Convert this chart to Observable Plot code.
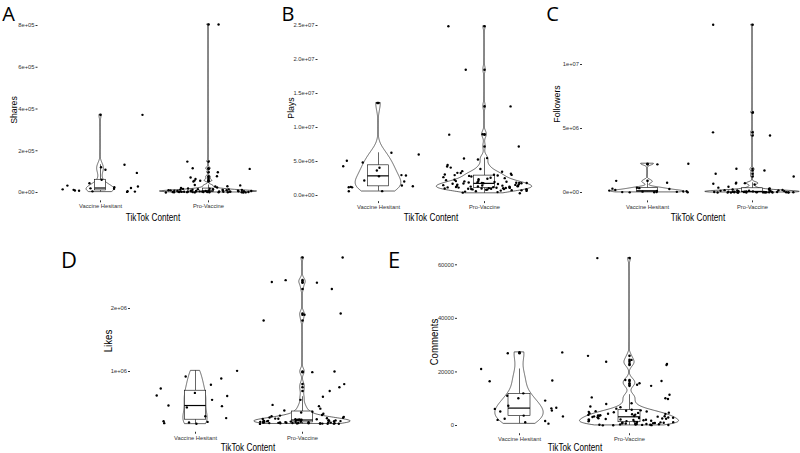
<!DOCTYPE html>
<html><head><meta charset="utf-8">
<script src="https://cdn.jsdelivr.net/npm/d3@7"></script>
<script src="https://cdn.jsdelivr.net/npm/@observablehq/plot@0.6"></script>
<style>
html,body{margin:0;padding:0;background:#fff}
body{width:800px;height:453px;overflow:hidden;position:relative;font-family:"Liberation Sans",Arial,sans-serif}
.lbl{position:absolute;white-space:nowrap;color:#000;line-height:normal}
.letter{font-family:"Open Sans","Liberation Sans",sans-serif}
</style></head><body>
<div id="root"></div>
<script>
// ---------- data ----------
const categories = ["Vaccine Hesitant", "Pro-Vaccine"];

const sharesHesitant = [372000, 133000, 121000, 109000, 94000, 61000, 44000, 33000, 29000, 25500, 21500, 19800, 17500, 15200, 12800, 9900, 8100, 6300, 5600, 4200, 2900];
const sharesPro = [805000, 148000, 116000, 113000, 97000, 78000, 72000, 65000, 57000, 56000, 53000, 36000, 34000, 30000, 29000, 24000, 22000,
  19500, 18200, 17600, 16100, 15400, 14800, 13900, 13200, 12600, 11800, 11100, 10700, 10200, 9600, 9300, 8800, 8400, 8100, 7700, 7400, 7100, 6900,
  6500, 6300, 6000, 5800, 5500, 5200, 5000, 4700, 4500, 4300, 4000, 3800, 3600, 3300, 3100, 2900, 2700, 2500, 2300, 2100, 1900, 1800, 1600, 1400,
  1200, 1000, 850, 700, 560, 420, 300, 180];
const sharesTicks = [0, 200000, 400000, 600000, 800000];
const sharesTickLabels = ["0e+00", "2e+05", "4e+05", "6e+05", "8e+05"];

const playsHesitant = [13600000, 6280000, 6030000, 5100000, 4850000, 4300000, 4070000, 3680000, 3000000, 2940000, 2840000, 2200000, 2060000,
  1470000, 1370000, 1270000, 1220000, 1200000, 640000, 620000];
const playsPro = [24900000, 18500000, 13100000, 9000000, 8950000, 7200000, 5500000, 5450000, 5300000, 4500000, 4260000, 4100000, 3900000,
  3580000, 3500000, 3330000, 3300000, 3200000, 3090000, 3060000, 3030000, 3000000,
  2940000, 2880000, 2790000, 2700000, 2620000, 2550000, 2470000, 2390000, 2310000, 2260000, 2180000, 2120000, 2070000, 2020000, 1980000,
  1950000, 1910000, 1880000, 1860000, 1840000, 1830000, 1810000, 1800000,
  1770000, 1730000, 1690000, 1640000, 1600000, 1560000, 1520000, 1480000, 1450000, 1420000, 1390000, 1360000, 1330000, 1310000, 1280000,
  1260000, 1230000, 1210000, 1190000, 1160000, 1140000, 1120000, 1100000, 1080000, 1060000, 1040000, 1020000, 1000000, 980000, 960000,
  940000, 920000, 900000, 870000, 850000, 820000, 790000, 760000, 720000, 680000, 630000, 570000, 500000, 420000, 330000];
const playsTicks = [0, 5000000, 10000000, 15000000, 20000000, 25000000];
const playsTickLabels = ["0.0e+00", "5.0e+06", "1.0e+07", "1.5e+07", "2.0e+07", "2.5e+07"];

const followersHesitant = [2250000, 2200000, 910000, 760000, 370000, 340000, 300000, 270000, 200000, 150000, 120000, 100000, 80000, 65000,
  50000, 40000, 30000, 22000, 18000, 10000];
const followersPro = [13100000, 6250000, 4700000, 4450000, 1850000, 1720000, 1460000, 1250000, 760000, 730000, 700000, 680000, 620000,
  450000, 380000, 310000, 270000, 240000, 215000, 198000, 183000, 166000, 152000, 141000, 129000, 118000, 109000, 101000, 93000, 86000,
  79000, 71000, 66000, 60000, 54000, 49000, 45000, 41000, 37000, 33000, 30000, 27500, 24000, 21500, 19000, 17200, 15100, 13300, 11800,
  10200, 8900, 7600, 6400, 5300, 4400, 3500, 2700, 1900, 1200, 600];
const followersTicks = [0, 5000000, 10000000];
const followersTickLabels = ["0e+00", "5e+06", "1e+07"];

const likesHesitant = [1010000, 920000, 890000, 790000, 730000, 660000, 620000, 610000, 550000, 460000, 450000, 430000, 290000, 260000,
  210000, 200000, 190000, 180000, 170000];
const likesPro = [2810000, 2450000, 2420000, 2410000, 2310000, 1920000, 1900000, 1810000, 1000000, 990000, 800000, 750000, 690000, 600000,
  550000, 470000, 450000, 410000, 380000, 360000, 350000, 330000, 310000, 300000, 290000, 280000, 270000, 265000, 258000, 252000, 249000,
  247000, 244000, 241000, 239000, 236000, 234000, 231000, 229000, 226000, 224000, 222000, 219000, 217000, 215000, 213000, 211000, 209000,
  207000, 205000, 203000, 201000, 199000, 197000, 196000, 194000, 192000, 191000, 189000, 188000, 186000, 185000, 183000, 182000, 181000,
  179000, 178000, 177000, 176000, 175000, 174000, 173000, 172000, 171000, 170000, 168000];
const likesTicks = [1000000, 2000000];
const likesTickLabels = ["1e+06", "2e+06"];

const commentsHesitant = [27300, 27000, 21100, 16800, 16500, 12000, 11100, 10200, 9300, 7400, 6600, 6400, 6200, 5600, 5200, 3700, 3400,
  2500, 2100, 1700, 1200, 700];
const commentsPro = [62500, 26000, 24500, 23800, 23000, 22600, 17000, 16600, 15800, 15200, 14800, 11500, 10500, 10200, 9900, 8300, 8000,
  7100, 6800, 6300, 5900, 5650, 5500, 5350, 5200, 5100, 4950, 4800, 4700, 4550, 4400, 4300, 4200, 4050, 3950, 3850, 3750, 3650, 3550, 3450,
  3400, 3300, 3200, 3100, 3000, 2900, 2800, 2700, 2600, 2500, 2400, 2300, 2250, 2150, 2050, 1950, 1850, 1750, 1650, 1550, 1450, 1350, 1250,
  1150, 1080, 1010, 950, 880, 820, 760, 700, 640, 580, 520, 470, 420, 370, 320, 270, 220, 170, 130, 90, 50];
const commentsTicks = [0, 20000, 40000, 60000];
const commentsTickLabels = ["0", "20000", "40000", "60000"];

const letters = ["A", "B", "C", "D", "E"];
const yTitles = ["Shares", "Plays", "Followers", "Likes", "Comments"];
const xTitle = "TikTok Content";

// ---------- layout (pixel geometry of each panel) ----------
const PANELS = [
  {hes: sharesHesitant, pro: sharesPro, ticks: sharesTicks, labels: sharesTickLabels,
   L: 37.5, c1: 100, c2: 208, a: [0, 192], b: [800000, 25], boxHalf: 0.05, seed: 0.11,
   letterPos: [8.5, 12.5, 20], yTitlePos: [13, 110, 9.5], xTitlePos: [153, 216.5, 10]},
  {hes: playsHesitant, pro: playsPro, ticks: playsTicks, labels: playsTickLabels,
   L: 317.5, c1: 378, c2: 484, a: [0, 195], b: [25000000, 25], boxHalf: 0.1, seed: 0.29,
   letterPos: [288, 12.5, 20], yTitlePos: [290, 108, 9.5], xTitlePos: [431, 216.5, 10]},
  {hes: followersHesitant, pro: followersPro, ticks: followersTicks, labels: followersTickLabels,
   L: 582, c1: 647, c2: 752, a: [0, 192], b: [10000000, 64], boxHalf: 0.1, seed: 0.47,
   letterPos: [552.5, 12.5, 20], yTitlePos: [556, 104, 9.5], xTitlePos: [698, 216.5, 10]},
  {hes: likesHesitant, pro: likesPro, ticks: likesTicks, labels: likesTickLabels,
   L: 130, c1: 195, c2: 302, a: [1000000, 371], b: [2000000, 308], boxHalf: 0.1, seed: 0.63,
   letterPos: [69, 259, 22], yTitlePos: [107.5, 341, 10.5], xTitlePos: [248, 446.5, 10]},
  {hes: commentsHesitant, pro: commentsPro, ticks: commentsTicks, labels: commentsTickLabels,
   L: 457, c1: 519, c2: 629, a: [0, 425], b: [60000, 264.3], boxHalf: 0.1, seed: 0.83,
   letterPos: [394, 258.5, 22], yTitlePos: [434, 342, 10.5], xTitlePos: [575, 446.5, 10]}
];

// gaussian KDE like R density() with bw.nrd0, trimmed to the data range, 512 points
function kde(vals) {
  const s = d3.sort(vals), n = s.length;
  const sd = d3.deviation(s);
  const iqr = d3.quantileSorted(s, 0.75) - d3.quantileSorted(s, 0.25);
  let lo = Math.min(sd, iqr / 1.34);
  if (!lo) lo = sd || Math.abs(s[0]) || 1;
  const bw = 0.9 * lo * Math.pow(n, -0.2);
  const mn = s[0], mx = s[n - 1], out = [];
  const norm = 1 / (n * bw * Math.sqrt(2 * Math.PI));
  for (let k = 0; k < 512; k++) {
    const y = mn + (mx - mn) * k / 511;
    let sum = 0;
    for (const v of s) { const z = (y - v) / bw; sum += Math.exp(-0.5 * z * z); }
    out.push({y, d: sum * norm});
  }
  return out;
}

const root = document.getElementById("root");
const W = 800, H = 453;

function addText(txt, x, y, size, rotate, sx, cls) {
  const d = document.createElement("div");
  d.textContent = txt;
  d.className = "lbl" + (cls ? " " + cls : "");
  d.style.left = x + "px";
  d.style.top = y + "px";
  d.style.fontSize = size + "px";
  d.style.transform = "translate(-50%,-50%)" + (rotate ? " rotate(-90deg)" : "") + " scaleX(" + sx + ")";
  document.body.appendChild(d);
}

PANELS.forEach((p, idx) => {
  const unit = p.c2 - p.c1;
  const R = Math.min(p.c2 + (p.c1 - p.L), W);
  const xDomain = [1 - (p.c1 - p.L) / unit, 2 + (R - p.c2) / unit];
  const k = (p.a[1] - p.b[1]) / (p.b[0] - p.a[0]);
  const py = v => p.a[1] - (v - p.a[0]) * k;
  const all = p.hes.concat(p.pro);
  const lo = d3.min(all), hi = d3.max(all), pad = 0.05 * (hi - lo);
  const yDomain = [lo - pad, hi + pad];
  const T = py(hi + pad), B = py(lo - pad);

  const groups = [p.hes, p.pro];
  const dens = groups.map(kde);
  const dmax = d3.max(dens.flat(), d => d.d);
  const vio = dens.flatMap((arr, g) => arr.map(d => ({g, y: d.y, x1: g + 1 - d.d / dmax * 0.45, x2: g + 1 + d.d / dmax * 0.45})));

  const boxes = groups.map((vals, g) => {
    const s = d3.sort(vals);
    const q1 = d3.quantileSorted(s, 0.25), q2 = d3.quantileSorted(s, 0.5), q3 = d3.quantileSorted(s, 0.75);
    const iqr = q3 - q1, lf = q1 - 1.5 * iqr, uf = q3 + 1.5 * iqr;
    const inside = s.filter(v => v >= lf && v <= uf);
    return {c: g + 1, q1, q2, q3, lo: d3.min(inside), hi: d3.max(inside), out: s.filter(v => v < lf || v > uf)};
  });
  const outliers = boxes.flatMap(b => b.out.map(v => ({c: b.c, v})));
  // horizontal jitter (±0.4 of a category), seeded so the page is reproducible
  const jitter = d3.randomUniform.source(d3.randomLcg(p.seed))(-0.4, 0.4);
  const pts = groups.flatMap((vals, g) => vals.map(v => ({v, x: g + 1 + jitter()})));

  const chart = Plot.plot({
    width: W, height: H,
    marginLeft: p.L, marginRight: W - R, marginTop: T, marginBottom: H - B,
    x: {domain: xDomain}, y: {domain: yDomain},
    style: {background: "transparent", fontFamily: "Liberation Sans, Arial, sans-serif", fontSize: "5.8px", color: "#333", overflow: "visible"},
    marks: [
      Plot.axisY(p.ticks, {tickFormat: d => p.labels[p.ticks.indexOf(d)], tickSize: 2, tickPadding: 1.5, fontSize: 5.8, label: null}),
      Plot.axisX([1, 2], {tickFormat: d => categories[d - 1], tickSize: 2, tickPadding: 1.5, fontSize: 5.8, label: null}),
      Plot.areaX(vio, {y: "y", x1: "x1", x2: "x2", z: "g", fill: "white", stroke: "black", strokeWidth: 0.6, curve: "linear"}),
      Plot.ruleX(boxes, {x: "c", y1: "lo", y2: "q1", stroke: "black", strokeWidth: 0.6}),
      Plot.ruleX(boxes, {x: "c", y1: "q3", y2: "hi", stroke: "black", strokeWidth: 0.6}),
      Plot.rect(boxes, {x1: d => d.c - p.boxHalf, x2: d => d.c + p.boxHalf, y1: "q1", y2: "q3", fill: "white", stroke: "black", strokeWidth: 0.6}),
      Plot.ruleY(boxes, {y: "q2", x1: d => d.c - p.boxHalf, x2: d => d.c + p.boxHalf, stroke: "black", strokeWidth: 1.2}),
      Plot.dot(outliers, {x: "c", y: "v", r: 1.3, fill: "black"}),
      Plot.dot(pts, {x: "x", y: "v", r: 1.2, fill: "black"})
    ]
  });
  chart.style.position = "absolute";
  chart.style.left = "0px";
  chart.style.top = "0px";
  root.appendChild(chart);

  addText(letters[idx], p.letterPos[0], p.letterPos[1], p.letterPos[2], false, 1, "letter");
  addText(yTitles[idx], p.yTitlePos[0], p.yTitlePos[1], p.yTitlePos[2], true, 0.92);
  addText(xTitle, p.xTitlePos[0], p.xTitlePos[1], p.xTitlePos[2], false, 0.82);
});
</script>
</body></html>
